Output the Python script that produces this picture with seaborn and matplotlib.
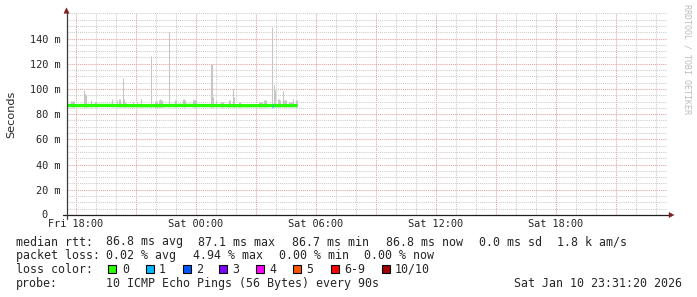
import matplotlib
matplotlib.use("Agg")
import matplotlib.pyplot as plt
import matplotlib.dates as mdates
from matplotlib.ticker import MultipleLocator, FixedLocator, FixedFormatter, FuncFormatter
from matplotlib.patches import Rectangle, Polygon
import seaborn as sns
import pandas as pd

# ---------------- data ----------------
START = pd.Timestamp("2026-01-09 17:31:20")
END = pd.Timestamp("2026-01-10 23:31:20")

# median rtt (ms) at minute offsets from START
median_min = [0, 57, 117, 177, 237, 297, 357, 417, 477, 537, 597, 657, 693]
median_ms = [86.8, 86.8, 86.9, 86.8, 86.7, 86.8, 86.9, 86.8, 86.8, 86.7, 86.8, 86.8, 86.8]

# interval with 1 lost packet
loss1_min = [615, 618]
loss1_ms = [86.8, 86.8]

# smoke (ping spread) tops, minute offsets from START
smoke_min = [12, 15, 18, 21, 51, 54, 57, 72, 84, 87, 135, 150, 156, 159, 168, 171,
             174, 198, 210, 222, 252, 264, 267, 270, 276, 279, 282, 285, 306, 324,
             327, 348, 351, 354, 378, 381, 384, 387, 432, 435, 438, 447, 462, 465,
             468, 486, 489, 498, 501, 516, 519, 576, 579, 582, 585, 591, 594, 597,
             615, 621, 624, 633, 636, 639, 648, 651, 654, 657, 666, 669, 672, 675,
             678, 687, 690]
smoke_top_ms = [90.5, 90.5, 90.5, 90.5, 99.5, 96.0, 95.0, 91.0, 89.5, 89.5, 92.4,
                91.0, 92.0, 92.0, 108.3, 92.0, 90.0, 89.5, 89.5, 92.0, 126.2, 90.5,
                90.5, 90.5, 91.0, 92.0, 91.0, 91.0, 145.2, 91.0, 91.0, 92.4, 92.4,
                91.5, 91.0, 92.0, 91.0, 91.0, 119.6, 119.6, 94.0, 91.5, 89.9, 89.9,
                89.9, 91.0, 91.0, 100.3, 94.0, 90.0, 90.0, 89.8, 89.8, 89.8, 89.8,
                91.0, 91.0, 91.0, 149.2, 103.0, 99.0, 92.4, 92.4, 91.5, 98.5, 91.0,
                91.0, 91.0, 90.0, 90.0, 90.0, 90.0, 92.4, 91.0, 91.0]
smoke_low_ms = 85.6

y_ticks = [0, 20, 40, 60, 80, 100, 120, 140]
y_labels = ["0", "20 m", "40 m", "60 m", "80 m", "100 m", "120 m", "140 m"]

rtt_items = ["median rtt:", "86.8 ms avg", "87.1 ms max", "86.7 ms min",
             "86.8 ms now", "0.0 ms sd", "1.8 k am/s"]
loss_items = ["packet loss:", "0.02 % avg", "4.94 % max", "0.00 % min", "0.00 % now"]
loss_labels = ["0", "1", "2", "3", "4", "5", "6-9", "10/10"]
loss_colors = ["#26ff00", "#00b8ff", "#0059ff", "#7e00ff", "#ff00ff", "#ff5500",
               "#ff0000", "#a10000"]
probe_label = "probe:"
probe_text = "10 ICMP Echo Pings (56 Bytes) every 90s"
stamp_text = "Sat Jan 10 23:31:20 2026"
y_title = "Seconds"
watermark = "RRDTOOL / TOBI OETIKER"

# ---------------- style ----------------
sns.set_style("white")
plt.rcParams["font.family"] = ["DejaVu Sans Mono", "DejaVu Sans"]

W, H = 697, 297
fig = plt.figure(figsize=(W / 100, H / 100), dpi=100)
fig.patch.set_facecolor("white")
AX_L, AX_B, AX_W, AX_H = 66.5, 215.0, 600.0, 201.7
ax = fig.add_axes([AX_L / W, (H - AX_B) / H, AX_W / W, AX_H / H])

def fx(px):
    return px / W

def fy(py):
    return 1 - py / H

smoke_t = [START + pd.Timedelta(minutes=m) for m in smoke_min]
ax.vlines(smoke_t, smoke_low_ms, smoke_top_ms, colors="#c6c6c6", linewidth=0.75, zorder=2)

med_df = pd.DataFrame({"t": [START + pd.Timedelta(minutes=m) for m in median_min],
                       "v": median_ms})
sns.lineplot(data=med_df, x="t", y="v", ax=ax, color=loss_colors[0], linewidth=2.35,
             estimator=None, solid_capstyle="butt", zorder=3)
l1_df = pd.DataFrame({"t": [START + pd.Timedelta(minutes=m) for m in loss1_min],
                      "v": loss1_ms})
sns.lineplot(data=l1_df, x="t", y="v", ax=ax, color=loss_colors[1], linewidth=2.35,
             estimator=None, solid_capstyle="butt", zorder=4)

ax.set_xlim(START, END)
ax.set_ylim(0, 160)
ax.set_xlabel("")
ax.set_ylabel("")

ax.xaxis.set_major_locator(mdates.HourLocator(byhour=range(0, 24, 3)))
ax.xaxis.set_minor_locator(mdates.HourLocator(byhour=range(24)))

def xfmt(x, pos):
    d = mdates.num2date(x)
    return d.strftime("%a %H:%M") if d.hour % 6 == 0 else ""

ax.xaxis.set_major_formatter(FuncFormatter(xfmt))
ax.yaxis.set_major_locator(FixedLocator(y_ticks))
# the zero label sits two character cells further left (no unit suffix)
ax.yaxis.set_major_formatter(FixedFormatter([""] + y_labels[1:]))
ax.yaxis.set_minor_locator(MultipleLocator(5))

dots = (0, (1, 1))
ax.grid(which="major", color="#e3a0a0", linestyle=dots, linewidth=0.75)
ax.grid(which="minor", color="#cccccc", linestyle=dots, linewidth=0.75)
ax.set_axisbelow(True)

for s in ax.spines.values():
    s.set_visible(False)

ax.tick_params(axis="both", which="both", direction="out", length=1.6, width=0.75,
               labelsize=7.35)
ax.tick_params(axis="both", which="major", color="#d08a8a")
ax.tick_params(axis="both", which="minor", color="#a0a0a0")
ax.tick_params(axis="y", which="major", pad=2.4)
ax.tick_params(axis="x", which="major", pad=1.6)

ax.annotate(y_labels[0], xy=(0, y_ticks[0]), xycoords=("axes fraction", "data"),
            xytext=(-14.0, 0), textcoords="offset points", ha="right", va="center",
            fontsize=7.35)

# axis lines with arrows
ax.plot([-4 / AX_W, 1 + 3 / AX_W], [0, 0], transform=ax.transAxes, color="#1f1f1f",
        linewidth=0.9, clip_on=False, zorder=6)
ax.plot([0, 0], [-4 / AX_H, 1.0], transform=ax.transAxes, color="#3a3a3a",
        linewidth=0.9, clip_on=False, zorder=6)
arrow_c = "#7f1f1f"
ax.add_patch(Polygon([[-2.6 / AX_W, 1.0], [2.6 / AX_W, 1.0], [0, 1 + 5.5 / AX_H]],
                     closed=True, transform=ax.transAxes, facecolor=arrow_c,
                     edgecolor=arrow_c, lw=0.3, clip_on=False, zorder=7))
ax.add_patch(Polygon([[1 + 2.5 / AX_W, -2.6 / AX_H], [1 + 2.5 / AX_W, 2.6 / AX_H],
                      [1 + 7.5 / AX_W, 0]],
                     closed=True, transform=ax.transAxes, facecolor=arrow_c,
                     edgecolor=arrow_c, lw=0.3, clip_on=False, zorder=7))

# y title and watermark
fig.text(fx(11), fy(114), y_title, rotation=90, ha="center", va="center",
         fontsize=8.1, family="DejaVu Sans")
fig.text(fx(686.5), fy(4.5), watermark, rotation=270, ha="center", va="top",
         fontsize=6.0, color="#bdbdbd", family="DejaVu Sans Mono")

# legend block
LF = 8.37
rtt_x = [15.5, 106.5, 198.5, 292.5, 385.5, 479.0, 557.0]
for x, s in zip(rtt_x, rtt_items):
    fig.text(fx(x), fy(245.5), s, fontsize=LF, va="baseline", ha="left")
loss_x = [15.5, 106.5, 193.5, 278.8, 364.5]
for x, s in zip(loss_x, loss_items):
    fig.text(fx(x), fy(259.3), s, fontsize=LF, va="baseline", ha="left")
fig.text(fx(15.5), fy(273.0), "loss color:", fontsize=LF, va="baseline", ha="left")
box_x = [108.3, 145.5, 182.5, 219.2, 256.0, 292.5, 330.5, 381.5]
for bx, lab, col in zip(box_x, loss_labels, loss_colors):
    fig.patches.append(Rectangle((fx(bx), fy(272.5)), fx(8), 8 / H,
                                 transform=fig.transFigure, facecolor=col,
                                 edgecolor="black", linewidth=0.8))
    fig.text(fx(bx + 13.5), fy(273.0), lab, fontsize=LF, va="baseline", ha="left")
fig.text(fx(15.5), fy(287.0), probe_label, fontsize=LF, va="baseline", ha="left")
fig.text(fx(106.5), fy(287.0), probe_text, fontsize=LF, va="baseline", ha="left")
fig.text(fx(681.5), fy(287.0), stamp_text, fontsize=LF, va="baseline", ha="right")

fig.savefig("out.png", dpi=100, facecolor="white")
